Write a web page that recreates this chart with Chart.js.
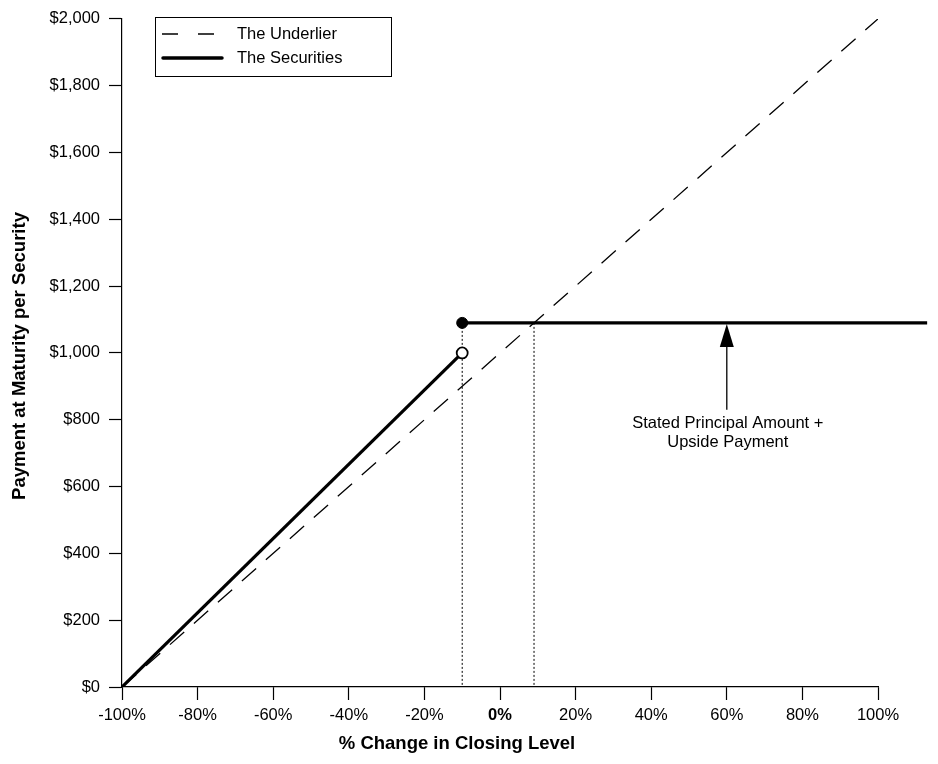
<!DOCTYPE html>
<html>
<head>
<meta charset="utf-8">
<script src="https://cdn.jsdelivr.net/npm/chart.js@4"></script>
<style>
html,body{margin:0;padding:0;background:#fff;}
canvas{display:block;}
</style>
</head>
<body>
<canvas id="c" width="938" height="764"></canvas>
<script>
// ---- data ----
const xTicks = [-100, -80, -60, -40, -20, 0, 20, 40, 60, 80, 100];
const yTicks = [0, 200, 400, 600, 800, 1000, 1200, 1400, 1600, 1800, 2000];
const underlierX = [-100, 100];
const underlierY = [0, 2000];
const securitiesDownX = [-100, -10];
const securitiesDownY = [0, 1000];
const securitiesUpX = [-10, 113];
const securitiesUpY = [1090, 1090];
const dottedAX = [-10, -10];
const dottedAY = [1090, 0];
const dottedBX = [9, 9];
const dottedBY = [1090, 0];
const arrowX = [60, 60];
const arrowY = [830, 1090];
const legendLabels = ['The Underlier', 'The Securities'];
const annotationLines = ['Stated Principal Amount +', 'Upside Payment'];
const xTitle = '% Change in Closing Level';
const yTitle = 'Payment at Maturity per Security';

const pts = (xs, ys) => xs.map((x, i) => ({x: x, y: ys[i]}));
const FONT = "'Liberation Sans', Arial, Helvetica, sans-serif";

const overlay = {
  id: 'overlay',
  afterDraw(chart) {
    const ctx = chart.ctx;
    const xs = chart.scales.x, ys = chart.scales.y;
    ctx.save();
    // arrow
    const ax = xs.getPixelForValue(arrowX[0]);
    const y0 = ys.getPixelForValue(arrowY[0]);
    const y1 = ys.getPixelForValue(arrowY[1]);
    ctx.strokeStyle = '#000'; ctx.fillStyle = '#000'; ctx.lineWidth = 1.3;
    ctx.beginPath(); ctx.moveTo(ax, y0); ctx.lineTo(ax, y1 + 20); ctx.stroke();
    ctx.beginPath(); ctx.moveTo(ax, y1 + 1); ctx.lineTo(ax - 7, y1 + 24); ctx.lineTo(ax + 7, y1 + 24); ctx.closePath(); ctx.fill();
    // annotation text
    ctx.font = '16.5px ' + FONT;
    ctx.textAlign = 'center'; ctx.textBaseline = 'middle';
    ctx.fillText(annotationLines[0], ax + 1, y0 + 14);
    ctx.fillText(annotationLines[1], ax + 1, y0 + 33);
    // legend
    ctx.lineWidth = 1;
    ctx.strokeRect(155.5, 17.5, 236, 59);
    ctx.setLineDash([16, 20]); ctx.lineWidth = 1.5;
    ctx.beginPath(); ctx.moveTo(162, 34); ctx.lineTo(223, 34); ctx.stroke();
    ctx.setLineDash([]); ctx.lineWidth = 3.5; ctx.lineCap = 'round';
    ctx.beginPath(); ctx.moveTo(163, 58); ctx.lineTo(222, 58); ctx.stroke();
    ctx.textAlign = 'left';
    ctx.fillText(legendLabels[0], 237, 34);
    ctx.fillText(legendLabels[1], 237, 58);
    // axis titles
    ctx.font = 'bold 18.5px ' + FONT;
    ctx.textAlign = 'center';
    ctx.fillText(xTitle, 457, 744);
    ctx.translate(20, 356); ctx.rotate(-Math.PI / 2);
    ctx.fillText(yTitle, 0, 0);
    ctx.restore();
  }
};

new Chart(document.getElementById('c'), {
  type: 'scatter',
  data: {
    datasets: [
      {data: pts([securitiesDownX[1]], [securitiesDownY[1]]), pointRadius: 5.5, pointBackgroundColor: '#fff', pointBorderColor: '#000', pointBorderWidth: 1.8, showLine: false},
      {data: pts([securitiesUpX[0]], [securitiesUpY[0]]), pointRadius: 5.5, pointBackgroundColor: '#000', pointBorderColor: '#000', pointBorderWidth: 1, showLine: false},
      {data: pts(securitiesDownX, securitiesDownY), showLine: true, borderColor: '#000', borderWidth: 3.2, pointRadius: 0},
      {data: pts(securitiesUpX, securitiesUpY), showLine: true, borderColor: '#000', borderWidth: 3.2, pointRadius: 0, clip: false},
      {data: pts(underlierX, underlierY), showLine: true, borderColor: '#000', borderWidth: 1.3, borderDash: [19, 13], pointRadius: 0},
      {data: pts(dottedAX, dottedAY), showLine: true, borderColor: '#000', borderWidth: 1, borderDash: [2, 2], pointRadius: 0},
      {data: pts(dottedBX, dottedBY), showLine: true, borderColor: '#000', borderWidth: 1, borderDash: [2, 2], pointRadius: 0}
    ]
  },
  options: {
    responsive: false,
    animation: false,
    devicePixelRatio: 1,
    layout: {padding: {top: 16, right: 60, left: 0, bottom: 0}},
    plugins: {legend: {display: false}, tooltip: {enabled: false}},
    scales: {
      x: {
        type: 'linear', min: -100, max: 100,
        afterFit(s) { s.height = 77; },
        afterBuildTicks(s) { s.ticks = xTicks.map(v => ({value: v})); },
        border: {display: true, color: '#000', width: 1.2},
        grid: {drawOnChartArea: false, drawTicks: true, tickLength: 13, tickColor: '#000', tickWidth: 1.2},
        ticks: {
          color: '#000', padding: 6, maxRotation: 0, autoSkip: false,
          font: c => ({family: FONT, size: 16.5, weight: (c.tick && c.tick.value === 0) ? 'bold' : 'normal'}),
          callback: v => v + '%'
        }
      },
      y: {
        type: 'linear', min: 0, max: 2000,
        afterFit(s) { s.width = 122; },
        afterBuildTicks(s) { s.ticks = yTicks.map(v => ({value: v})); },
        border: {display: true, color: '#000', width: 1.2},
        grid: {drawOnChartArea: false, drawTicks: true, tickLength: 13, tickColor: '#000', tickWidth: 1.2},
        ticks: {
          color: '#000', padding: 9, autoSkip: false,
          font: {family: FONT, size: 16.5},
          callback: v => '$' + v.toLocaleString('en-US')
        }
      }
    }
  },
  plugins: [overlay]
});
</script>
</body>
</html>
